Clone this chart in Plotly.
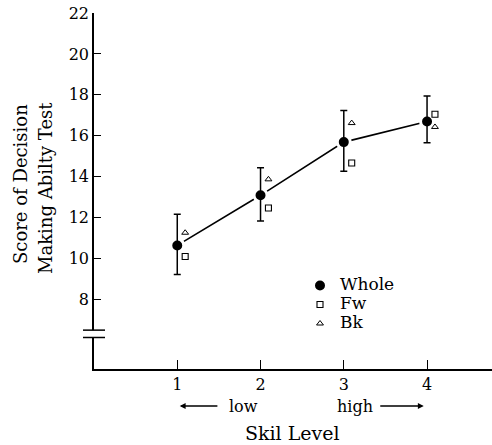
import plotly.graph_objects as go

# ---- data ----
levels = [1, 2, 3, 4]
level_labels = ["1", "2", "3", "4"]
whole = [10.64, 13.09, 15.69, 16.70]
whole_hi = [12.16, 14.44, 17.24, 17.94]
whole_lo = [9.22, 11.83, 14.26, 15.66]
fw = [10.10, 12.47, 14.67, 17.05]
bk = [11.26, 13.87, 16.62, 16.43]
y_ticks = [8, 10, 12, 14, 16, 18, 20, 22]
series_names = ["Whole", "Fw", "Bk"]

FONT = "DejaVu Serif"
W, H = 492, 445
ML, MR, MT, MB = 94, 0, 13, 76
PW = W - ML - MR
PH = H - MT - MB
X_RANGE = [0, 4.78]
Y_RANGE = [4.6, 22]
OFFSET = 0.095  # horizontal shift of the sub-group markers


def px_x(p):
    return (p - ML) / PW


def px_y(p):
    return (H - MB - p) / PH


err_plus = [h - m for h, m in zip(whole_hi, whole)]
err_minus = [m - l for m, l in zip(whole, whole_lo)]


def legend_label(s):
    return '<span style="font-size:17px">' + s + '</span>'


fig = go.Figure()

# connecting line
fig.add_trace(go.Scatter(x=levels, y=whole, mode="lines",
                         line=dict(color="black", width=1.6),
                         showlegend=False, hoverinfo="skip"))
# whole means (white halo creates the gap between line and dot)
fig.add_trace(go.Scatter(x=levels, y=whole, mode="markers",
                         name=legend_label(series_names[0]),
                         marker=dict(symbol="circle", size=13, color="black",
                                     line=dict(color="white", width=3))))
fig.add_trace(go.Scatter(x=[v + OFFSET for v in levels], y=fw, mode="markers",
                         name=legend_label(series_names[1]),
                         marker=dict(symbol="square-open", size=6, color="black",
                                     line=dict(width=1.1))))
fig.add_trace(go.Scatter(x=[v + OFFSET for v in levels], y=bk, mode="markers",
                         name=legend_label(series_names[2]),
                         marker=dict(symbol="triangle-up-open", size=6, color="black",
                                     line=dict(width=1.0))))
# error bars on top
fig.add_trace(go.Scatter(x=levels, y=whole, mode="markers",
                         marker=dict(size=1, opacity=0),
                         error_y=dict(type="data", symmetric=False, array=err_plus,
                                      arrayminus=err_minus, color="black",
                                      thickness=1.5, width=3.5),
                         showlegend=False, hoverinfo="skip"))

# axis break on the y axis
fig.add_shape(type="rect", xref="paper", yref="y", x0=-0.02, x1=0.02, y0=6.14, y1=6.5,
              fillcolor="white", line=dict(width=0), layer="above")
for yb in (6.14, 6.5):
    fig.add_shape(type="line", xref="paper", yref="y", x0=-11 / PW, x1=11 / PW,
                  y0=yb, y1=yb, line=dict(color="black", width=1.5), layer="above")

txt = dict(family=FONT, size=16, color="black")
ann = []
y_arrow = px_y(406)
ann.append(dict(text="low", x=1.79, y=y_arrow, xref="x", yref="paper",
                xanchor="center", yanchor="middle", showarrow=False, font=txt))
ann.append(dict(text="high", x=3.13, y=y_arrow, xref="x", yref="paper",
                xanchor="center", yanchor="middle", showarrow=False, font=txt))
ann.append(dict(text="", x=1.03, y=y_arrow, xref="x", yref="paper",
                ax=1.50, ay=0, axref="x", ayref="pixel", showarrow=True,
                arrowhead=2, arrowsize=0.9, arrowwidth=1.3, arrowcolor="black"))
ann.append(dict(text="", x=3.96, y=y_arrow, xref="x", yref="paper",
                ax=3.42, ay=0, axref="x", ayref="pixel", showarrow=True,
                arrowhead=2, arrowsize=0.9, arrowwidth=1.3, arrowcolor="black"))
ann.append(dict(text="Skil Level", x=px_x(292), y=px_y(433),
                xref="paper", yref="paper", xanchor="center", yanchor="middle",
                showarrow=False, font=dict(family=FONT, size=19, color="black")))
ann.append(dict(text="Score of Decision", textangle=-90,
                x=px_x(20), y=px_y(184), xref="paper", yref="paper",
                xanchor="center", yanchor="middle", showarrow=False,
                font=dict(family=FONT, size=18, color="black")))
ann.append(dict(text="Making Abilty Test", textangle=-90,
                x=px_x(45), y=px_y(188), xref="paper", yref="paper",
                xanchor="center", yanchor="middle", showarrow=False,
                font=dict(family=FONT, size=18, color="black")))

fig.update_layout(
    width=W, height=H,
    margin=dict(l=ML, r=MR, t=MT, b=MB, pad=0, autoexpand=False),
    paper_bgcolor="white", plot_bgcolor="white",
    font=dict(family=FONT, size=16, color="black"),
    annotations=ann,
    showlegend=True,
    legend=dict(x=px_x(300), y=px_y(271), xanchor="left", yanchor="top",
                bgcolor="rgba(0,0,0,0)", font=dict(family=FONT, size=11, color="black"),
                itemsizing="trace"),
    xaxis=dict(range=X_RANGE, tickvals=levels, ticktext=level_labels,
               showline=True, linecolor="black", linewidth=1.6,
               ticks="inside", ticklen=9, tickwidth=1.2, tickcolor="black",
               showgrid=False, zeroline=False, automargin=False,
               tickfont=dict(family=FONT, size=16, color="black")),
    yaxis=dict(range=Y_RANGE, tickvals=y_ticks,
               showline=True, linecolor="black", linewidth=1.6,
               ticks="inside", ticklen=7, tickwidth=1.2, tickcolor="black",
               showgrid=False, zeroline=False, automargin=False,
               tickfont=dict(family=FONT, size=16, color="black")),
)

fig.write_html("out.html", config={"displayModeBar": False},
               post_script="document.body.style.margin='0';document.body.style.padding='0';")
